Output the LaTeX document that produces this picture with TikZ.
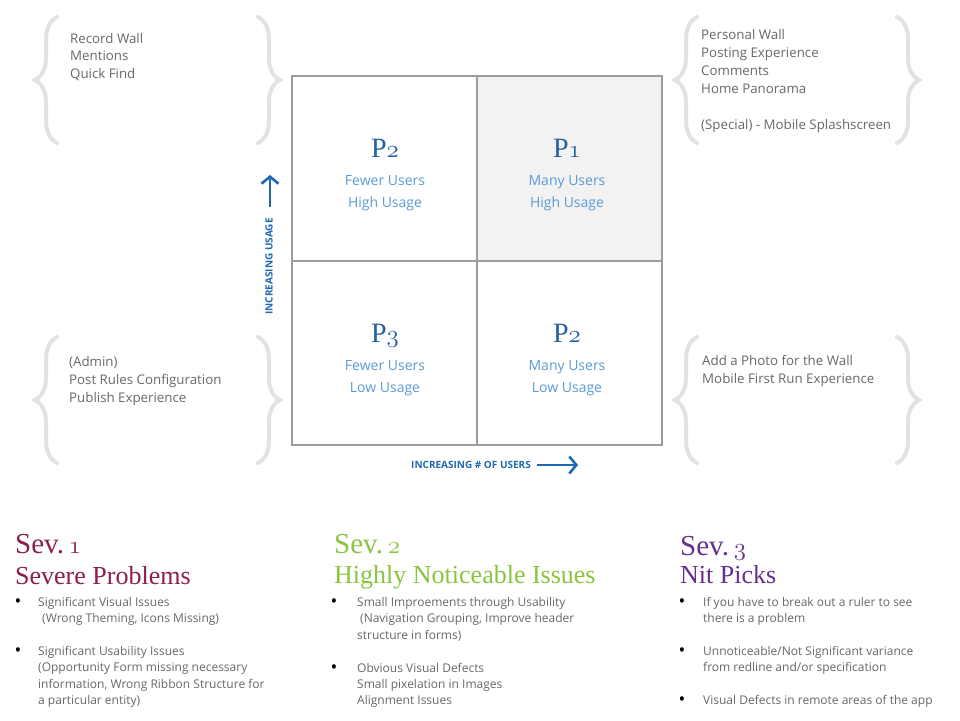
\documentclass[tikz,border=0pt]{standalone}
\usepackage{fontspec}
\setmainfont{Open Sans}
\newfontfamily\headfont{Liberation Serif}
\usetikzlibrary{decorations.pathreplacing,arrows.meta}
\newcommand\osdig[2]{{\fontencoding{OML}\fontfamily{lmm}\fontseries{b}\fontshape{it}\fontsize{#1}{#1}\selectfont #2}}
\definecolor{gridc}{HTML}{9C9C9C}
\definecolor{cellfill}{HTML}{F2F2F2}
\definecolor{pblue}{HTML}{23609F}
\definecolor{sblue}{HTML}{5B9BD5}
\definecolor{axblue}{HTML}{1F68B3}
\definecolor{txtgray}{HTML}{686868}
\definecolor{bracec}{HTML}{E2E2E2}
\definecolor{sevone}{HTML}{8C1F50}
\definecolor{sevtwo}{HTML}{8CC43F}
\definecolor{sevthree}{HTML}{66308C}
\tikzset{
  txt/.style={inner sep=0pt, anchor=base west, text=txtgray, font=\fontsize{13.3}{17}\selectfont},
  btxt/.style={inner sep=0pt, anchor=base west, text=txtgray, font=\fontsize{12}{16}\selectfont},
  bul/.style={inner sep=0pt, anchor=base, text=black, font=\fontsize{18}{18}\selectfont},
  pnum/.style={inner sep=0pt, anchor=base, text=pblue, font=\headfont\fontsize{28}{30}\selectfont},
  psub/.style={inner sep=0pt, anchor=base, text=sblue, font=\fontsize{14}{18}\selectfont},
  axlab/.style={inner sep=0pt, text=axblue, font=\bfseries\fontsize{10}{12}\selectfont},
  axarrow/.style={draw=axblue, line width=2.6pt, -{Straight Barb[length=7pt,width=17pt]}},
  lbrace/.style={draw=bracec, line width=4pt, line cap=round, decorate, decoration={brace, amplitude=22pt}},
  sevhead/.style={inner sep=0pt, anchor=base west, font=\headfont\fontsize{29}{30}\selectfont},
  sevsub/.style={inner sep=0pt, anchor=base west, font=\headfont\fontsize{26}{28}\selectfont},
}
\begin{document}
\begin{tikzpicture}[x=1pt,y=-1pt]
\useasboundingbox (0,0) rectangle (960,720);
\fill[white] (0,0) rectangle (960,720);

% braces
\draw[lbrace] (57,143) -- (57,17);
\draw[lbrace] (258,17) -- (258,143);
\draw[lbrace] (697,143) -- (697,17);
\draw[lbrace] (897,17) -- (897,143);
\draw[lbrace] (57,463) -- (57,337);
\draw[lbrace] (258,337) -- (258,463);
\draw[lbrace] (697,463) -- (697,337);
\draw[lbrace] (897,337) -- (897,463);

% brace texts
\node[txt] (tl1) at (70,43) {Record Wall};
\node[txt] (tl2) at (70,60.5) {Mentions};
\node[txt] (tl3) at (70,78) {Quick Find};

\node[txt] (tr1) at (701,39) {Personal Wall};
\node[txt] (tr2) at (701,57) {Posting Experience};
\node[txt] (tr3) at (701,75) {Comments};
\node[txt] (tr4) at (701,93) {Home Panorama};
\node[txt] (tr5) at (701,129) {(Special) - Mobile Splashscreen};

\node[txt] (bl1) at (69,366) {(Admin)};
\node[txt] (bl2) at (69,384) {Post Rules Configuration};
\node[txt] (bl3) at (69,402) {Publish Experience};

\node[txt] (br1) at (702,365) {Add a Photo for the Wall};
\node[txt] (br2) at (702,383) {Mobile First Run Experience};

% grid
\fill[cellfill] (476.7,76) rectangle (661.7,261);
\draw[gridc, line width=2pt] (291.7,76) rectangle (661.7,445);
\draw[gridc, line width=2pt] (476.7,76) -- (476.7,445);
\draw[gridc, line width=2pt] (291.7,261) -- (661.7,261);

\node[pnum] (p2a) at (385,157) {P\osdig{36}{2}};
\node[psub] (p2a1) at (385,185) {Fewer Users};
\node[psub] (p2a2) at (385,207) {High Usage};

\node[pnum] (p1) at (567,157) {P\osdig{36}{1}};
\node[psub] (p11) at (567,185) {Many Users};
\node[psub] (p12) at (567,207) {High Usage};

\node[pnum] (p3) at (385,342) {P\osdig{36}{3}};
\node[psub] (p31) at (385,370) {Fewer Users};
\node[psub] (p32) at (385,392) {Low Usage};

\node[pnum] (p2b) at (567,342) {P\osdig{36}{2}};
\node[psub] (p2b1) at (567,370) {Many Users};
\node[psub] (p2b2) at (567,392) {Low Usage};

% axes
\node[axlab, rotate=90] (ylab) at (269,266.5) {INCREASING USAGE};
\coordinate (yfrom) at (270,207);
\coordinate (yto) at (270,175);
\draw[axarrow] (yfrom) -- (yto);

\node[axlab] (xlab) at (471,465) {INCREASING \# OF USERS};
\coordinate (xfrom) at (537,465);
\coordinate (xto) at (578,465);
\draw[axarrow] (xfrom) -- (xto);

% Sev 1
\node[sevhead, text=sevone] (s1h) at (15,553) {Sev.\,\osdig{37}{1}};
\node[sevsub, text=sevone] (s1s) at (15,584) {Severe Problems};
\node[bul] (s1b1) at (18,607) {•};
\node[btxt] (s1t1) at (38,606) {Significant Visual Issues};
\node[btxt] (s1t2) at (42,622) {(Wrong Theming, Icons Missing)};
\node[bul] (s1b2) at (18,656) {•};
\node[btxt] (s1t3) at (38,655) {Significant Usability Issues};
\node[btxt] (s1t4) at (38,671.5) {(Opportunity Form missing necessary};
\node[btxt] (s1t5) at (38,688) {information, Wrong Ribbon Structure for};
\node[btxt] (s1t6) at (38,704.5) {a particular entity)};

% Sev 2
\node[sevhead, text=sevtwo] (s2h) at (334,553) {Sev.\,\osdig{37}{2}};
\node[sevsub, text=sevtwo] (s2s) at (334,583) {Highly Noticeable Issues};
\node[bul] (s2b1) at (334,607) {•};
\node[btxt] (s2t1) at (357,606) {Small Improements through Usability};
\node[btxt] (s2t2) at (360,622.5) {(Navigation Grouping, Improve header};
\node[btxt] (s2t3) at (357,639) {structure in forms)};
\node[bul] (s2b2) at (334,673) {•};
\node[btxt] (s2t4) at (357,672) {Obvious Visual Defects};
\node[btxt] (s2t5) at (357,688) {Small pixelation in Images};
\node[btxt] (s2t6) at (357,704.5) {Alignment Issues};

% Sev 3
\node[sevhead, text=sevthree] (s3h) at (680,555) {Sev.\,\osdig{37}{3}};
\node[sevsub, text=sevthree] (s3s) at (680,583) {Nit Picks};
\node[bul] (s3b1) at (682,607) {•};
\node[btxt] (s3t1) at (703,606) {If you have to break out a ruler to see};
\node[btxt] (s3t2) at (703,622) {there is a problem};
\node[bul] (s3b2) at (682,656) {•};
\node[btxt] (s3t3) at (703,655) {Unnoticeable/Not Significant variance};
\node[btxt] (s3t4) at (703,671.5) {from redline and/or specification};
\node[bul] (s3b3) at (682,705) {•};
\node[btxt] (s3t5) at (703,704) {Visual Defects in remote areas of the app};
\end{tikzpicture}
\end{document}
